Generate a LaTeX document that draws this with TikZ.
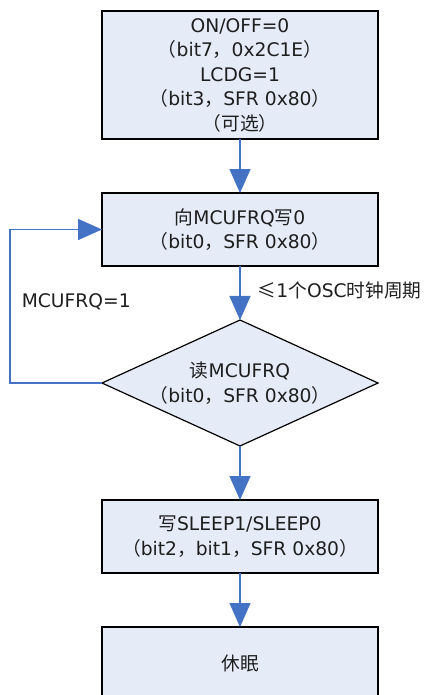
\documentclass[tikz,border=0pt]{standalone}
\usepackage{fontspec}
\setmainfont{DejaVu Sans}
\newfontfamily\zhfont{Noto Sans CJK SC}
\usepackage{tikz}
\usetikzlibrary{arrows.meta,shapes.geometric,positioning}
\usepackage{xcolor}
\definecolor{flowblue}{RGB}{68,114,196}
\definecolor{flowfill}{RGB}{230,236,247}
\definecolor{flowtext}{RGB}{30,30,30}
\newcommand{\zh}[1]{{\zhfont #1}}
\tikzstyle{stepbox} = [rectangle, minimum width=276pt, minimum height=73pt, text centered, align=center, draw=black, fill=flowfill, line width=1.2pt, text=flowtext, outer sep=0pt, font=\fontsize{18.7}{24.5}\selectfont]
\tikzstyle{check} = [diamond, minimum width=276pt, minimum height=126pt, aspect=2.2, inner sep=0pt, align=center, draw=black, fill=flowfill, line width=1.2pt, text=flowtext, outer sep=0pt, font=\fontsize{18.7}{24.5}\selectfont]
\tikzstyle{arrow} = [line width=1.5pt, -{Triangle[length=24pt,width=21pt]}, color=flowblue]
\tikzstyle{lbl} = [text=flowtext, inner sep=0pt, font=\fontsize{18.7}{24}\selectfont]

\begin{document}
\begin{tikzpicture}[node distance=54pt]
\clip (0,0) rectangle (427pt,-695pt);
% Steps
\node (onoff) [stepbox, minimum height=128pt] at (240pt,-75pt) {ON/OFF=0\\\zh{（}bit7\zh{，}0x2C1E\zh{）}\\LCDG=1\\\zh{（}bit3\zh{，}SFR 0x80\zh{）}\\\zh{（可选）}};
\node (wrfrq) [stepbox, below=of onoff] {\zh{向}MCUFRQ\zh{写}0\\\zh{（}bit0\zh{，}SFR 0x80\zh{）}};
\node (rdfrq) [check, below=of wrfrq] {\zh{读}MCUFRQ\\\zh{（}bit0\zh{，}SFR 0x80\zh{）}};
\node (sleepsel) [stepbox, below=of rdfrq] {\zh{写}SLEEP1/SLEEP0\\\zh{（}bit2\zh{，}bit1\zh{，}SFR 0x80\zh{）}};
\node (sleep) [stepbox, below=of sleepsel] {\zh{休眠}};

% Arrows
\draw[arrow] (onoff) -- (wrfrq);
\draw[arrow] (wrfrq) -- node (osc) [lbl, right=17pt, yshift=3pt] {\zh{≤}1\zh{个}OSC\zh{时钟周期}} (rdfrq);
\draw[arrow] (rdfrq.west) -- ++(-92pt,0) |- node (again) [lbl, pos=0.25, right=11pt, yshift=4pt] {MCUFRQ=1} (wrfrq.west);
\draw[arrow] (rdfrq) -- (sleepsel);
\draw[arrow] (sleepsel) -- (sleep);
\end{tikzpicture}
\end{document}
